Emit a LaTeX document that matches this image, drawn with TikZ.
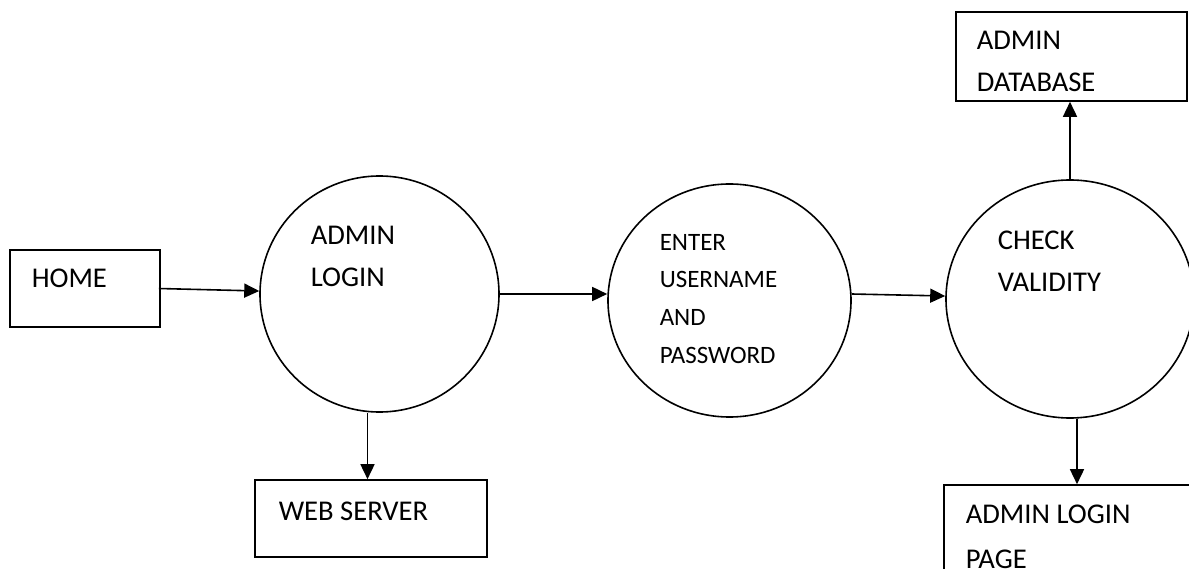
\documentclass[tikz,border=0pt]{standalone}
\usepackage{fontspec}
\setmainfont{Carlito}
\usetikzlibrary{arrows.meta,shapes.geometric}
\begin{document}
\begin{tikzpicture}[x=1pt,y=-1pt,
  line width=1.5pt,
  boxn/.style={draw,rectangle,inner sep=0pt,line width=1.6pt},
  proc/.style={draw,ellipse,inner sep=0pt,line width=1.6pt},
  lbl/.style={anchor=base west,inner sep=0pt,font=\fontsize{28.6}{28.6}\selectfont},
  lbls/.style={anchor=base west,inner sep=0pt,font=\fontsize{25}{25}\selectfont},
  flow/.style={-{Triangle[length=15pt,width=14pt]},line width=1.6pt}]
\clip (0,0) rectangle (1189,569);
\fill[white] (0,0) rectangle (1189,569);
% shapes
\node[boxn,minimum width=150pt,minimum height=77pt] (home) at (85,288.5) {};
\node[proc,minimum width=239pt,minimum height=236pt] (adm) at (379.5,294) {};
\node[proc,minimum width=243pt,minimum height=233pt] (ent) at (729.5,300.5) {};
\node[proc,minimum width=248pt,minimum height=238pt] (chk) at (1070,299) {};
\node[boxn,minimum width=232pt,minimum height=77pt] (web) at (371,518.5) {};
\node[boxn,minimum width=231pt,minimum height=89pt] (db) at (1071.5,56.5) {};
\node[boxn,minimum width=320pt,minimum height=120pt] (page) at (1104,545) {};
% texts
\node[lbl] (thome) at (31,288) {HOME};
\node[lbl] (tadm1) at (310,245) {ADMIN};
\node[lbl] (tadm2) at (310,287) {LOGIN};
\node[lbls] (tent1) at (659,251) {ENTER};
\node[lbls] (tent2) at (659,288) {USERNAME};
\node[lbls] (tent3) at (659,326) {AND};
\node[lbls] (tent4) at (659,363) {PASSWORD};
\node[lbl] (tchk1) at (997,250) {CHECK};
\node[lbl] (tchk2) at (997,292) {VALIDITY};
\node[lbl] (tweb) at (278,520) {WEB SERVER};
\node[lbl] (tdb1) at (976,50) {ADMIN};
\node[lbl] (tdb2) at (976,92) {DATABASE};
\node[lbl] (tpage1) at (965,523) {ADMIN LOGIN};
\node[lbl] (tpage2) at (965,568) {PAGE};
% connectors
\draw[flow] ([xshift=-2pt]home.east) -- (adm);
\draw[flow] ([yshift=0pt]adm.east) -- (adm.east -| ent.west);
\draw[flow] ([yshift=6.5pt]ent.east) -- ([yshift=3pt]chk.west);
\draw[flow] (chk.north) -- (chk.north |- db.south);
\draw[flow] ([xshift=-12pt]adm.south) -- ([xshift=-12pt]adm.south |- web.north);
\draw[flow] ([xshift=7pt]chk.south) -- ([xshift=7pt]chk.south |- page.north);
\end{tikzpicture}
\end{document}
